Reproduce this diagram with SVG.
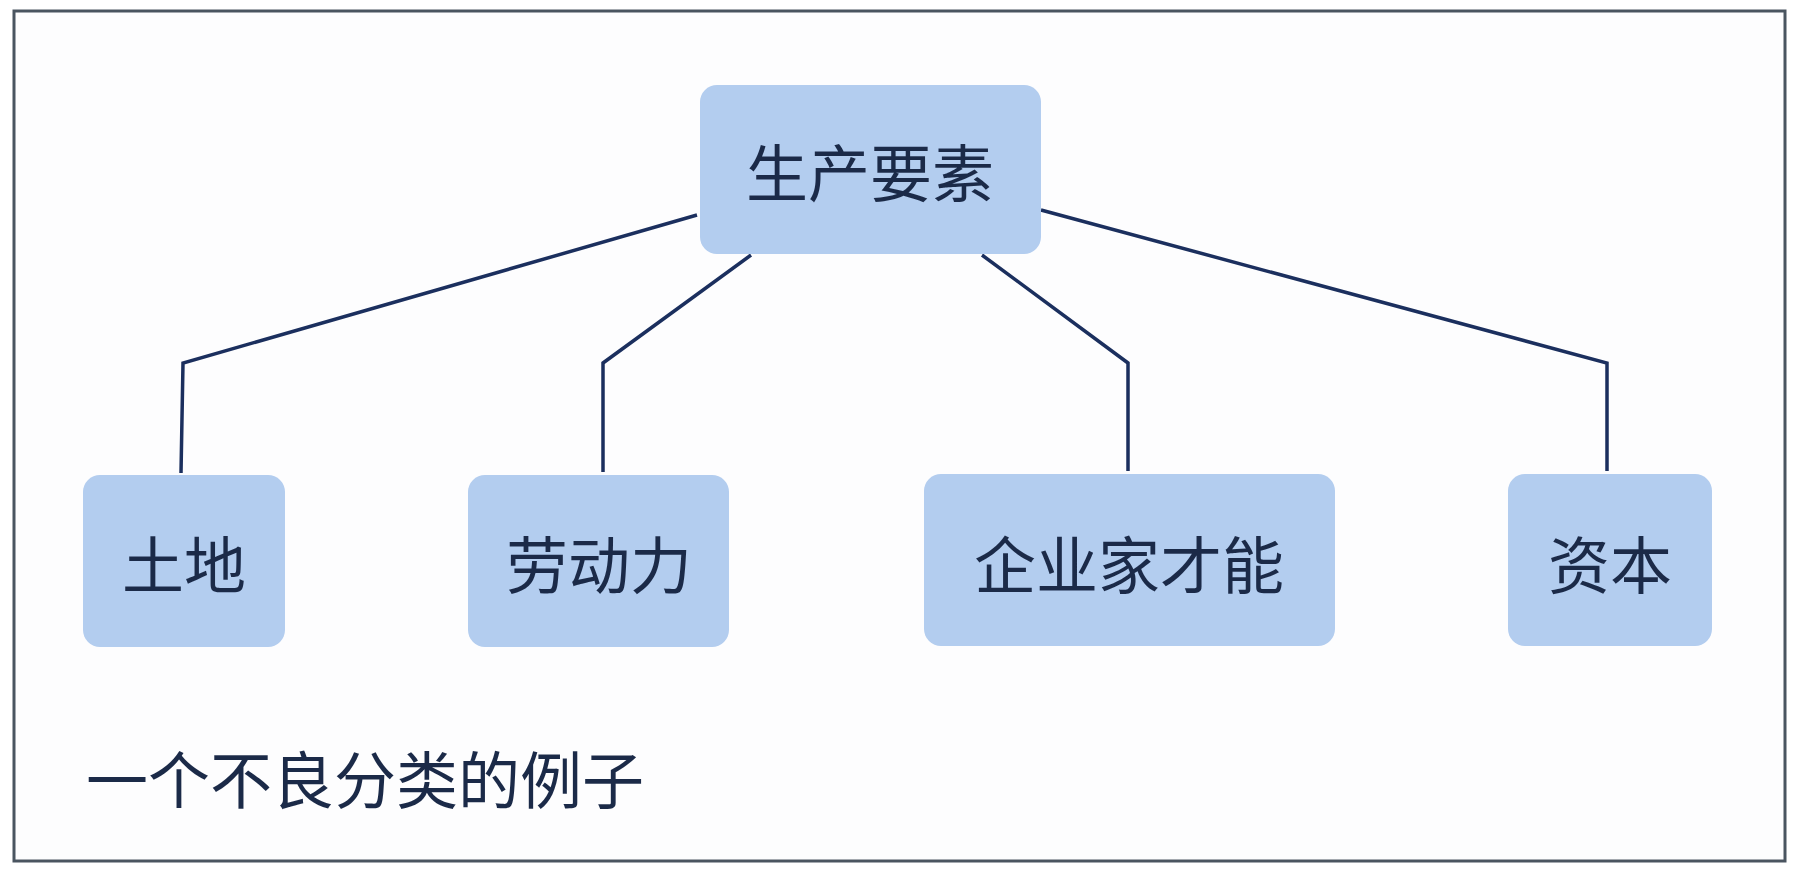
<svg xmlns="http://www.w3.org/2000/svg" width="1800" height="874" viewBox="0 0 1800 874">
<style>
.n{fill:#b3cdef;}
.t{font-family:"Noto Sans CJK SC",sans-serif;font-size:62px;fill:#1b2a48;text-anchor:middle;dominant-baseline:central;}
.c{fill:none;stroke:#1b2f5e;stroke-width:3.5;}
</style>
<rect width="1800" height="874" fill="#ffffff"/>
<rect x="14" y="11" width="1771" height="850" fill="#fdfdfe" stroke="#4a5560" stroke-width="3"/>
<g id="connectors">
<polyline class="c" points="697,215 183,363 181,473"/>
<polyline class="c" points="751,255 603,363 603,472"/>
<polyline class="c" points="982,255 1128,363 1128,471"/>
<polyline class="c" points="1041,210 1607,363 1607,471"/>
</g>
<g id="root"><rect class="n" x="700" y="85" width="341" height="169" rx="17"/><text class="t" x="870" y="170">生产要素</text></g>
<g id="land"><rect class="n" x="83" y="475" width="202" height="172" rx="17"/><text class="t" x="184" y="562">土地</text></g>
<g id="labor"><rect class="n" x="468" y="475" width="261" height="172" rx="17"/><text class="t" x="599" y="562">劳动力</text></g>
<g id="entre"><rect class="n" x="924" y="474" width="411" height="172" rx="17"/><text class="t" x="1129" y="562">企业家才能</text></g>
<g id="capital"><rect class="n" x="1508" y="474" width="204" height="172" rx="17"/><text class="t" x="1610" y="562">资本</text></g>
<text x="86" y="777" style="font-family:'Noto Sans CJK SC',sans-serif;font-size:62px;fill:#1b2a48;dominant-baseline:central;">一个不良分类的例子</text>
</svg>
